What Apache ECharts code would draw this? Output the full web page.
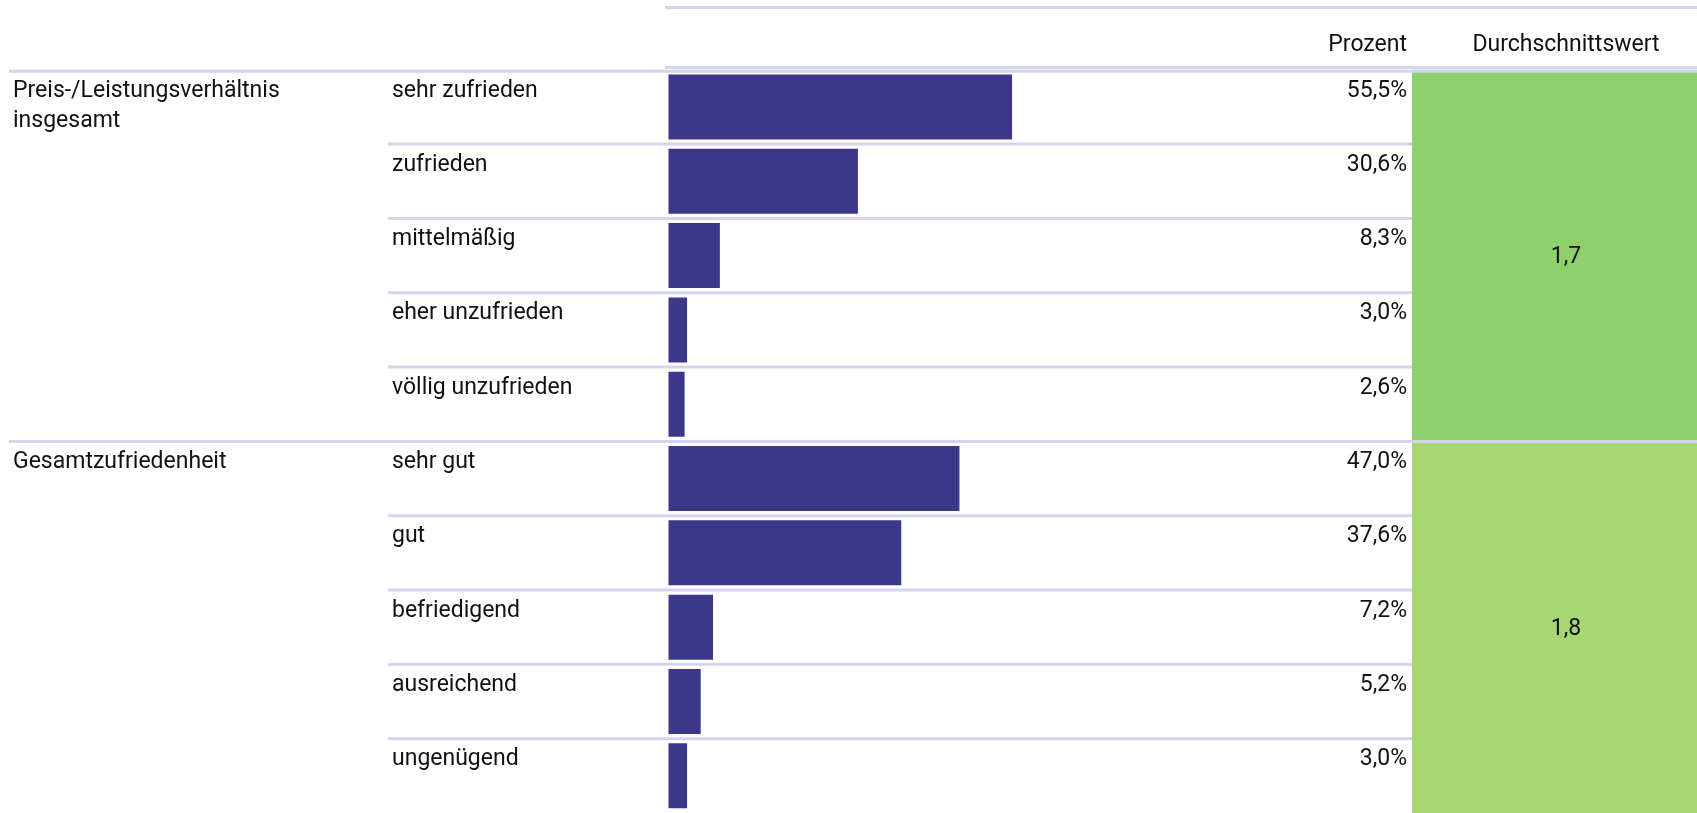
<!DOCTYPE html>
<html>
<head>
<meta charset="utf-8">
<script src="https://cdn.jsdelivr.net/npm/echarts@6/dist/echarts.min.js"></script>
<style>
  html, body { margin: 0; padding: 0; background: #fff; }
  #chart { width: 1697px; height: 813px; }
</style>
</head>
<body>
<div id="chart"></div>
<script>
const groupLabels = ['Preis-/Leistungsverhältnis\ninsgesamt', 'Gesamtzufriedenheit'];
const answers1 = ['sehr zufrieden', 'zufrieden', 'mittelmäßig', 'eher unzufrieden', 'völlig unzufrieden'];
const answers2 = ['sehr gut', 'gut', 'befriedigend', 'ausreichend', 'ungenügend'];
const percents1 = [55.5, 30.6, 8.3, 3.0, 2.6];
const percents2 = [47.0, 37.6, 7.2, 5.2, 3.0];
const averages = [1.7, 1.8];
const headerLabels = ['Prozent', 'Durchschnittswert'];

const answers = answers1.concat(answers2);
const percents = percents1.concat(percents2);
const groupSize = answers1.length;

const FONT = 'Roboto';
const FS = 23;
const TEXT = '#111111';
const LINE = '#d4d4ef';
const greens = ['#8fd06d', '#a8d672'];
const TEXT_DY = 21; // text middle below row top

const fmt = (v, d) => v.toFixed(d).replace('.', ',');

function txt(x, y, text, align) {
  return {
    type: 'text',
    x: x, y: y,
    style: {
      text: text, fill: TEXT, fontSize: FS, fontFamily: FONT,
      align: align, verticalAlign: 'middle',
      textAlign: align, textVerticalAlign: 'middle', lineHeight: 30
    }
  };
}

const chartDom = document.getElementById('chart');
const myChart = echarts.init(chartDom);

const option = {
  animation: false,
  grid: { left: 668.5, width: 619, top: 69.75, height: 749.5 },
  xAxis: { type: 'value', min: 0, max: 100, show: false },
  yAxis: { type: 'category', inverse: true, data: answers, show: false },
  graphic: [
    { type: 'line', shape: { x1: 665, y1: 7.5, x2: 1697, y2: 7.5 }, style: { stroke: LINE, lineWidth: 3 } },
    { type: 'line', shape: { x1: 665, y1: 67.5, x2: 1697, y2: 67.5 }, style: { stroke: LINE, lineWidth: 3 } },
    txt(1407, 45, headerLabels[0], 'right'),
    txt(1566, 45, headerLabels[1], 'center')
  ],
  series: [
    {
      // green average cells
      type: 'custom',
      z: 1,
      silent: true,
      data: averages.map((v, g) => [0, g * groupSize, v]),
      renderItem: function (params, api) {
        const band = api.size([0, 1])[1];
        const top = api.coord([0, api.value(1)])[1] - band / 2;
        const h = band * groupSize;
        return {
          type: 'group',
          children: [
            { type: 'rect', shape: { x: 1412, y: top, width: api.getWidth() - 1412, height: h }, style: { fill: greens[params.dataIndex] } },
            txt(1566, top + h / 2 + 2, fmt(api.value(2), 1), 'center')
          ]
        };
      }
    },
    {
      // row lines and text columns
      type: 'custom',
      z: 2,
      silent: true,
      data: answers.map((a, i) => [0, i]),
      renderItem: function (params, api) {
        const i = api.value(1);
        const band = api.size([0, 1])[1];
        const top = api.coord([0, i])[1] - band / 2;
        const children = [];
        const first = i % groupSize === 0;
        if (first) {
          const ly = i === 0 ? top + 1.5 : top;
          children.push({ type: 'line', shape: { x1: 9, y1: ly, x2: api.getWidth(), y2: ly }, style: { stroke: LINE, lineWidth: 3 } });
          const label = groupLabels[i / groupSize];
          const lines = label.split('\n').length;
          children.push(txt(13, top + TEXT_DY + (lines - 1) * 15, label, 'left'));
        } else {
          children.push({ type: 'line', shape: { x1: 388, y1: top, x2: 1412, y2: top }, style: { stroke: LINE, lineWidth: 3 } });
        }
        children.push(txt(392, top + TEXT_DY, answers[i], 'left'));
        children.push(txt(1407, top + TEXT_DY, fmt(percents[i], 1) + '%', 'right'));
        return { type: 'group', children: children };
      }
    },
    {
      type: 'bar',
      z: 3,
      silent: true,
      barWidth: 65,
      itemStyle: { color: '#3b3789' },
      data: percents
    }
  ]
};
myChart.setOption(option);

window.addEventListener('resize', () => myChart.resize());
</script>
</body>
</html>
